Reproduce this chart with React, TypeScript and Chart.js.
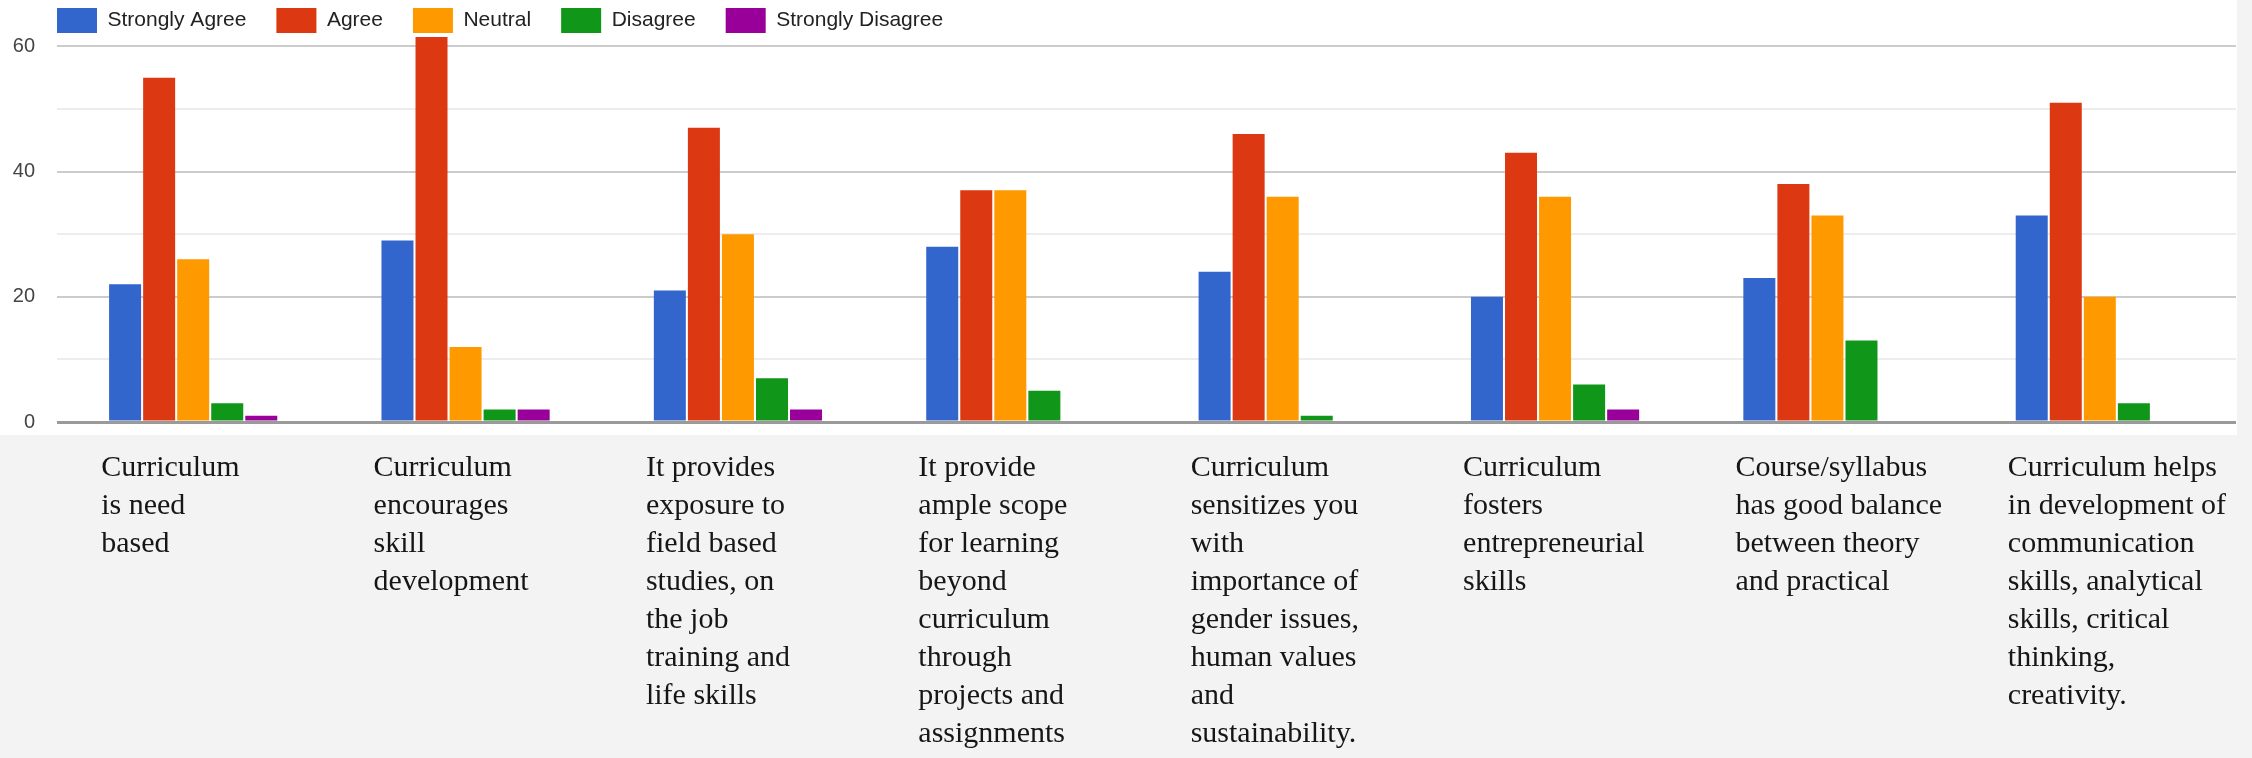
import { useEffect, useRef } from 'react';
import { Chart, registerables } from 'chart.js';

Chart.register(...registerables);

// ---- data ----
const categories: string[][] = [
  ['Curriculum', 'is need', 'based'],
  ['Curriculum', 'encourages', 'skill', 'development'],
  ['It provides', 'exposure to', 'field based', 'studies, on', 'the job', 'training and', 'life skills'],
  ['It provide', 'ample scope', 'for learning', 'beyond', 'curriculum', 'through', 'projects and', 'assignments'],
  ['Curriculum', 'sensitizes you', 'with', 'importance of', 'gender issues,', 'human values', 'and', 'sustainability.'],
  ['Curriculum', 'fosters', 'entrepreneurial', 'skills'],
  ['Course/syllabus', 'has good balance', 'between theory', 'and practical'],
  ['Curriculum helps', 'in development of', 'communication', 'skills, analytical', 'skills, critical', 'thinking,', 'creativity.'],
];
const seriesNames = ['Strongly Agree', 'Agree', 'Neutral', 'Disagree', 'Strongly Disagree'];
const stronglyAgree = [22, 29, 21, 28, 24, 20, 23, 33];
const agree = [55, 62, 47, 37, 46, 43, 38, 51];
const neutral = [26, 12, 30, 37, 36, 36, 33, 20];
const disagree = [3, 2, 7, 5, 1, 6, 13, 3];
const stronglyDisagree = [1, 2, 2, 0, 0, 2, 0, 0];
const yTickLabels = [0, 20, 40, 60];

// ---- styles ----
const seriesColors = ['#3366cc', '#dc3912', '#ff9900', '#109618', '#990099'];
const W = 2252;
const H = 758;

const backgroundPlugin = {
  id: 'slideBackground',
  beforeDraw(chart: any) {
    const { ctx, chartArea } = chart;
    ctx.save();
    ctx.fillStyle = '#f3f3f3';
    ctx.fillRect(0, 0, chart.width, chart.height);
    ctx.fillStyle = '#ffffff';
    ctx.fillRect(0, 0, chartArea.right + 1, chartArea.bottom + 13);
    ctx.restore();
  },
};

// legend: slightly shorter box, and first item aligned with the plot area's left edge
const legendTweak = {
  id: 'legendTweak',
  beforeInit(chart: any) {
    const legend = chart.legend;
    if (!legend) return;
    const origFit = legend.fit;
    legend.fit = function () {
      origFit.call(this);
      this.height -= 6;
    };
  },
  afterLayout(chart: any) {
    const legend = chart.legend;
    if (!legend) return;
    const pad = legend.options.labels.padding;
    const shift = chart.chartArea.left - pad - legend.left;
    legend.left += shift;
    legend.right += shift;
    if (legend.legendHitBoxes) legend.legendHitBoxes.forEach((h: any) => (h.left += shift));
  },
};

export default function App() {
  const ref = useRef<HTMLCanvasElement | null>(null);

  useEffect(() => {
    if (!ref.current) return;
    const all = [stronglyAgree, agree, neutral, disagree, stronglyDisagree];
    const chart = new Chart(ref.current, {
      type: 'bar',
      data: {
        labels: categories,
        datasets: all.map((d, i) => ({
          label: seriesNames[i],
          data: d,
          backgroundColor: seriesColors[i],
          borderColor: seriesColors[i],
          borderWidth: 0,
          categoryPercentage: 0.625,
          barPercentage: 0.94,
        })),
      },
      options: {
        responsive: false,
        animation: false,
        layout: { padding: { top: -22, left: 12, right: 16, bottom: 0 } },
        plugins: {
          legend: {
            position: 'top',
            align: 'start',
            labels: {
              boxWidth: 40,
              boxHeight: 25,
              padding: 30,
              color: '#222222',
              font: { family: "'Liberation Sans', Arial, sans-serif", size: 21 },
            },
          },
          tooltip: { enabled: false },
        },
        scales: {
          x: {
            grid: { display: false, drawTicks: false },
            border: { display: false },
            ticks: {
              align: 'start',
              labelOffset: -92,
              padding: 27,
              autoSkip: false,
              maxRotation: 0,
              minRotation: 0,
              color: '#161616',
              font: { family: "'Liberation Serif', 'Times New Roman', serif", size: 30, lineHeight: 38 / 30 },
            },
            afterFit(scale: any) {
              scale.height = 336;
              scale.paddingLeft = 0;
              scale.paddingRight = 0;
            },
          },
          y: {
            min: 0,
            max: 61.5,
            border: { display: false },
            grid: {
              drawTicks: false,
              color: (c: any) =>
                c.tick.value === 0 ? '#9a9a9a' : c.tick.value % 20 === 0 ? '#cccccc' : '#ededed',
              lineWidth: (c: any) => (c.tick.value === 0 ? 3 : 2),
            },
            ticks: {
              stepSize: 10,
              includeBounds: false,
              padding: 22,
              color: '#444444',
              font: { family: "'Liberation Sans', Arial, sans-serif", size: 20 },
              callback: (v: any) => (yTickLabels.includes(Number(v)) ? String(v) : ''),
            },
            afterFit(scale: any) {
              scale.width = 45;
            },
          },
        },
      },
      plugins: [backgroundPlugin, legendTweak],
    } as any);
    return () => chart.destroy();
  }, []);

  return (
    <div style={{ position: 'absolute', left: 0, top: 0, width: W, height: H, background: '#f3f3f3' }}>
      <canvas ref={ref} width={W} height={H} style={{ display: 'block', width: W, height: H }} />
    </div>
  );
}
